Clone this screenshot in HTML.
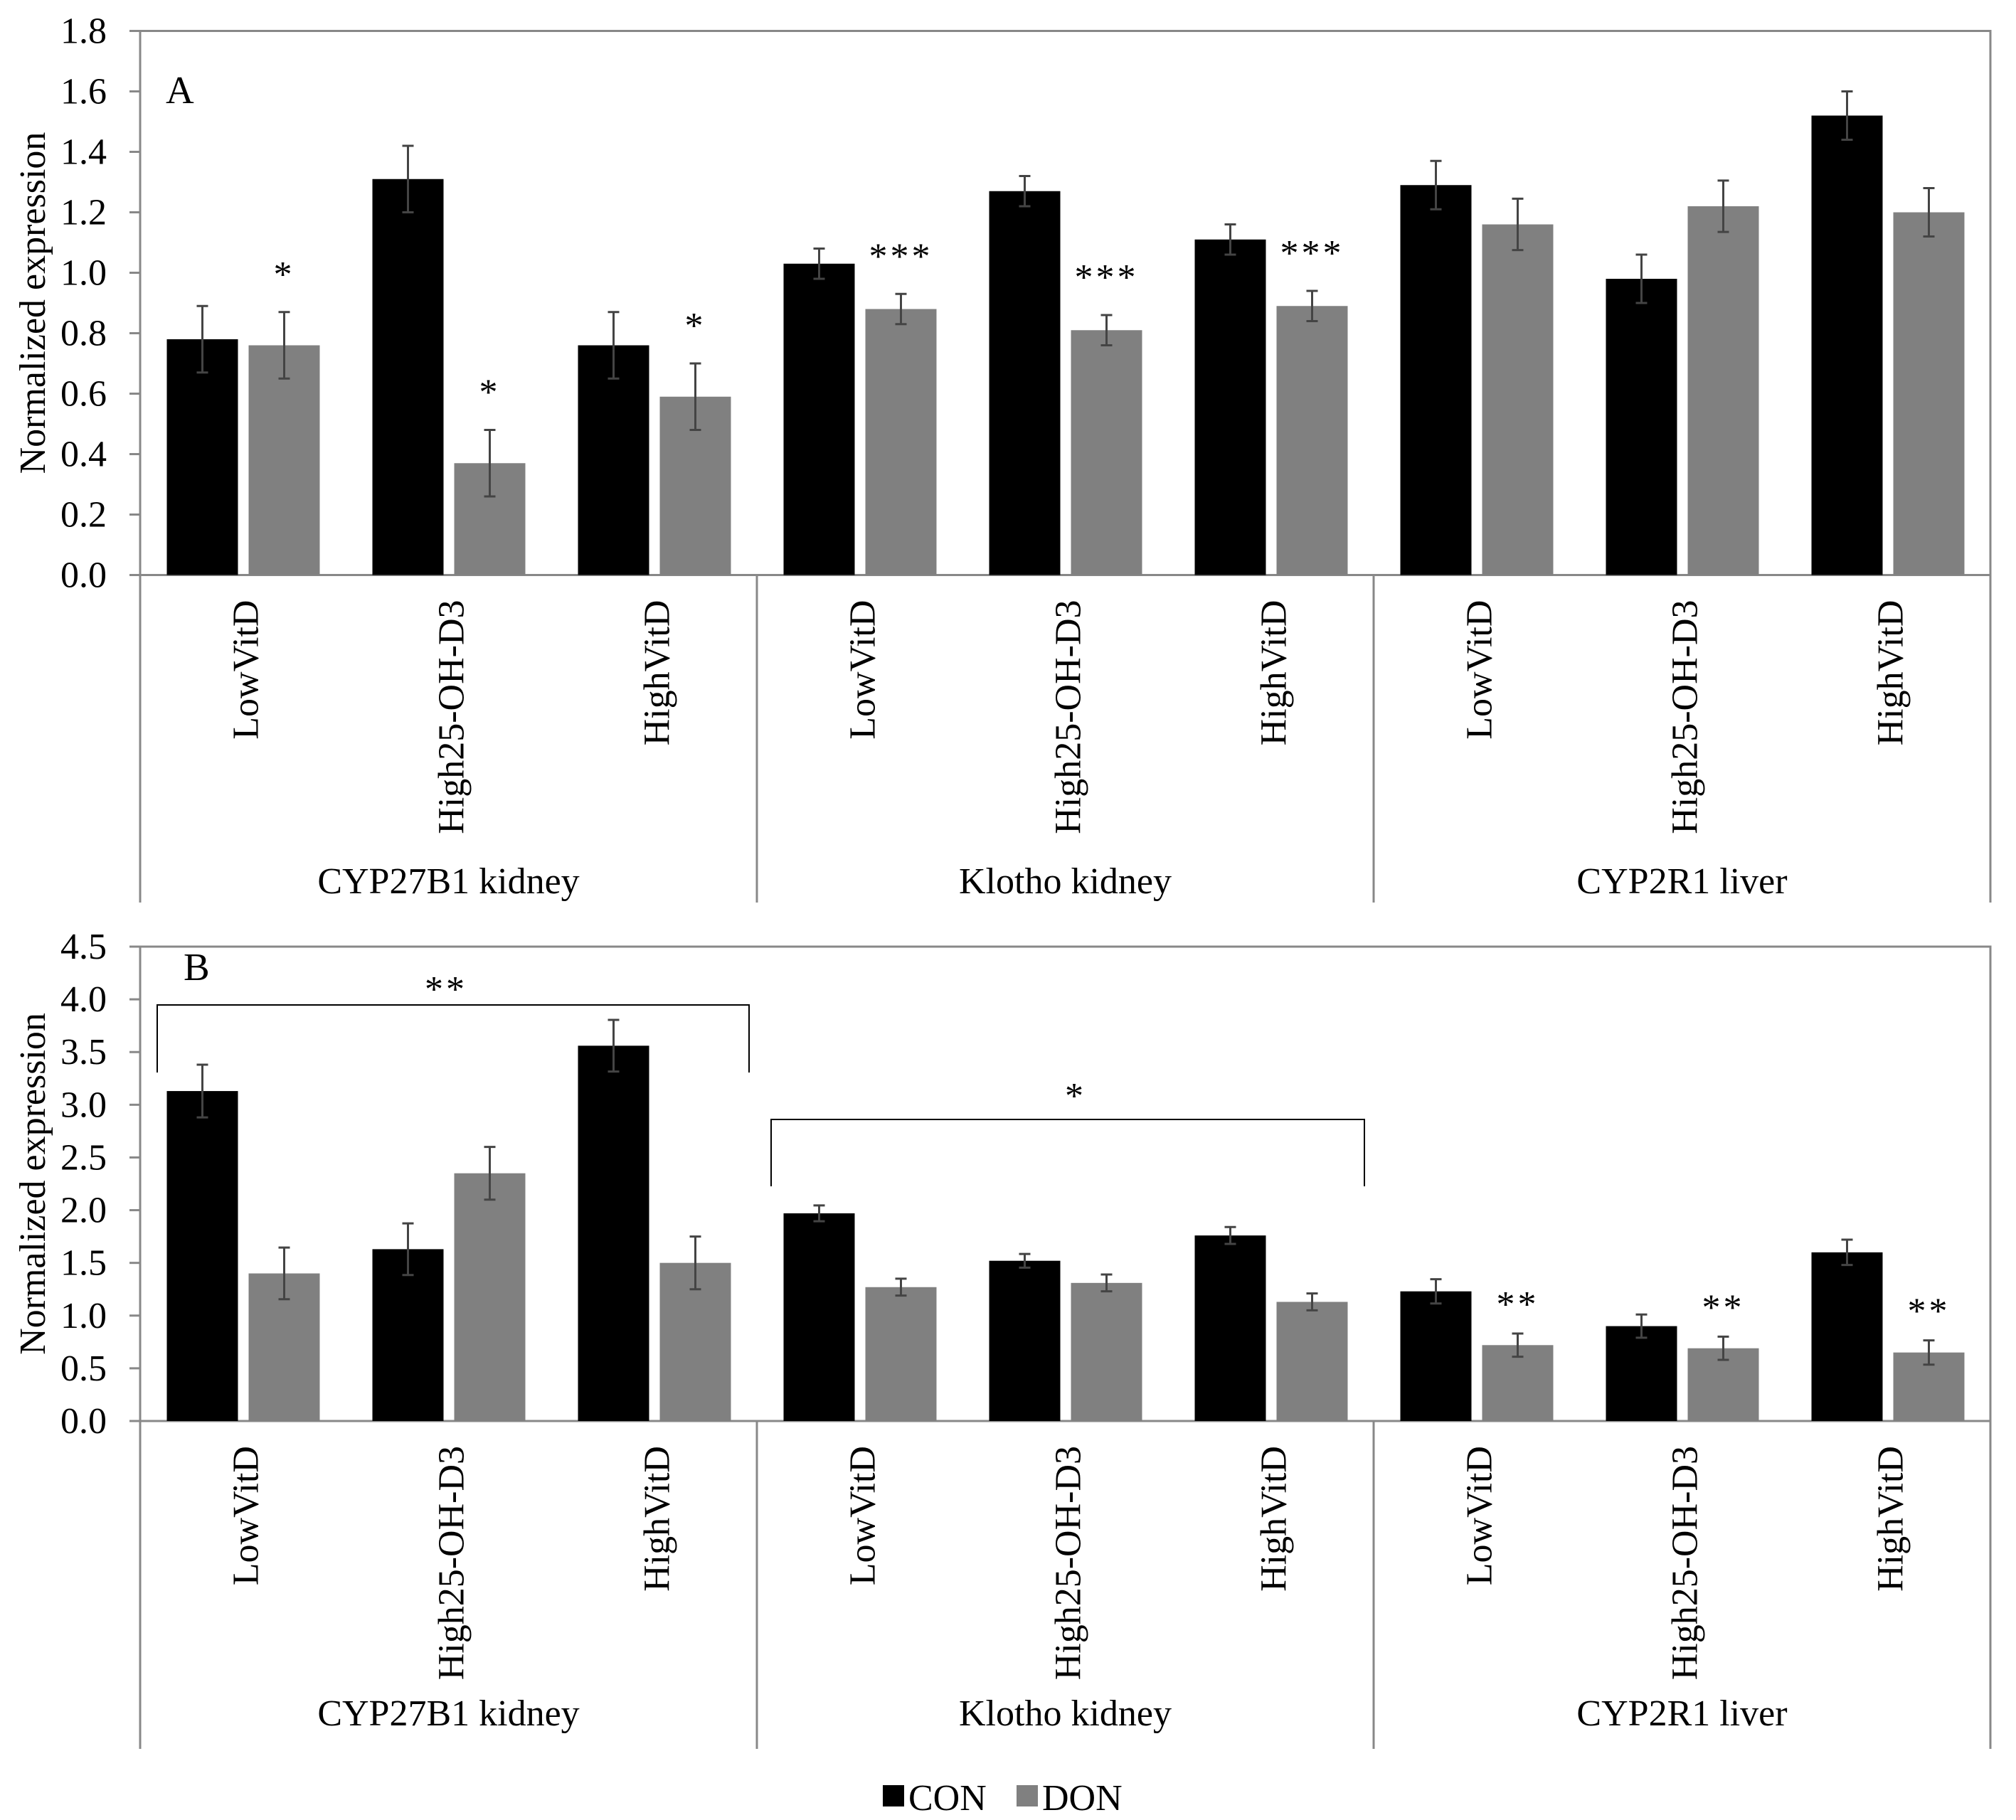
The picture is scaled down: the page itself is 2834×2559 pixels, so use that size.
<!DOCTYPE html>
<html><head><meta charset="utf-8"><style>
html,body{margin:0;padding:0;background:#fff;}
svg{display:block;font-family:"Liberation Serif","Times New Roman",serif;}
</style></head><body>
<svg id="chart" width="2834" height="2559" viewBox="0 0 2834 2559" xmlns="http://www.w3.org/2000/svg"></svg>
<script>
const groups = ["CYP27B1 kidney","Klotho kidney","CYP2R1 liver"];
const categories = ["LowVitD","High25-OH-D3","HighVitD"];
const seriesNames = ["CON","DON"];
// Panel A values (per group, per category)
const aCon = [0.78,1.31,0.76, 1.03,1.27,1.11, 1.29,0.98,1.52];
const aConErr = [0.11,0.11,0.11, 0.05,0.05,0.05, 0.08,0.08,0.08];
const aDon = [0.76,0.37,0.59, 0.88,0.81,0.89, 1.16,1.22,1.20];
const aDonErr = [0.11,0.11,0.11, 0.05,0.05,0.05, 0.085,0.085,0.08];
const aStars = ["*","*","*","***","***","***","","",""];
const aTicks = ["0.0","0.2","0.4","0.6","0.8","1.0","1.2","1.4","1.6","1.8"];
// Panel B values
const bCon = [3.13,1.63,3.56, 1.97,1.52,1.76, 1.23,0.90,1.60];
const bConErr = [0.25,0.245,0.245, 0.075,0.065,0.08, 0.115,0.11,0.12];
const bDon = [1.40,2.35,1.50, 1.27,1.31,1.13, 0.72,0.69,0.65];
const bDonErr = [0.245,0.25,0.25, 0.08,0.08,0.08, 0.11,0.11,0.115];
const bStars = ["","","","","","","**","**","**"];
const bTicks = ["0.0","0.5","1.0","1.5","2.0","2.5","3.0","3.5","4.0","4.5"];

const NS="http://www.w3.org/2000/svg";
const svg=document.getElementById('chart');
function mk(tag,attrs,parent,txt){const e=document.createElementNS(NS,tag);for(const k in attrs)e.setAttribute(k,attrs[k]);if(txt!==undefined)e.textContent=txt;(parent||svg).appendChild(e);return e;}

const X0=197, X1=2798, FS=52;
const catW=(X1-X0)/9;
function xCat(i){return X0+catW*(i+0.5);}

function drawPanel(p){
  const g=mk('g',{});
  
  
  const yv=v=>p.y0-(v/p.max)*(p.y0-p.yTop);
  // frame
  const fr=mk('rect',{x:X0,y:p.yTop,width:X1-X0,height:p.y0-p.yTop,fill:'none',stroke:'#888',"stroke-width":3},g);
  
  
  // ticks
  p.ticks.forEach((t,i)=>{
    const v=parseFloat(t);const y=yv(v);
    const tk=mk('line',{x1:X0-15,x2:X0,y1:y,y2:y,stroke:'#888',"stroke-width":3},g);
    
    
    const tl=mk('text',{x:150,y:y+17,"text-anchor":"end","font-size":FS},g,t);
    
    
  });
  // axis extension and dividers
  const ax=mk('line',{x1:X0,x2:X0,y1:p.yTop,y2:p.yBot,stroke:'#888',"stroke-width":3},g);
  
  
  for(let k=1;k<=3;k++){
    const x=X0+catW*3*k;
    const d=mk('line',{x1:x,x2:x,y1:p.y0,y2:p.yBot,stroke:'#888',"stroke-width":3},g);
    
    
  }
  const yt=mk('text',{x:0,y:0,"text-anchor":"middle","font-size":FS,transform:`translate(63,${(p.yTop+p.y0)/2}) rotate(-90)`},g,'Normalized expression');
  
  
  const pl=mk('text',{x:p.lx,y:p.ly,"font-size":55},g,p.letter);
  
  
  // bars
  for(let i=0;i<9;i++){
    const cx=xCat(i);
    const bars=[[p.con[i],p.conErr[i],'#000',cx-107,'con'],[p.don[i],p.donErr[i],'#808080',cx+8,'don']];
    bars.forEach(b=>{
      const y=yv(b[0]);
      const r=mk('rect',{x:b[3],y:y,width:100,height:p.y0-y,fill:b[2]},g);
      
      
      const ex=b[3]+50, yh=yv(b[0]+b[1]), yl=yv(b[0]-b[1]);
      const e=mk('path',{d:`M${ex},${yh}V${yl}M${ex-8},${yh}H${ex+8}M${ex-8},${yl}H${ex+8}`,stroke:'#444',"stroke-width":3,fill:'none'},g);
      
      
    });
    if(p.stars[i]){
      const top=yv(p.don[i]+p.donErr[i]);
      const s=mk('text',{x:cx+58,y:top-p.starGap+24,"text-anchor":"middle","font-size":FS,"letter-spacing":"4"},g,p.stars[i]);
      
      
    }
    const cl=mk('text',{x:0,y:0,"text-anchor":"end","font-size":FS,transform:`translate(${cx+21},${p.y0+35}) rotate(-90)`},g,categories[i%3]);
    
    
  }
  groups.forEach((gn,k)=>{
    const t=mk('text',{x:X0+catW*(3*k+1.5),y:p.gy,"text-anchor":"middle","font-size":FS},g,gn);
    
    
  });
}
drawPanel({name:'panel-a',letter:'A',yTop:43.5,y0:808.5,yBot:1269,max:1.8,ticks:aTicks,con:aCon,conErr:aConErr,don:aDon,donErr:aDonErr,stars:aStars,lx:233,ly:145,gy:1256,starGap:60});
drawPanel({name:'panel-b',letter:'B',yTop:1331,y0:1998,yBot:2459,max:4.5,ticks:bTicks,con:bCon,conErr:bConErr,don:bDon,donErr:bDonErr,stars:bStars,lx:258,ly:1378,gy:2426,starGap:48});

// brackets in panel B
const br1=mk('path',{d:'M221,1508V1413H1053V1508',stroke:'#000',"stroke-width":2,fill:'none'});


const bs1=mk('text',{x:627,y:1408,"text-anchor":"middle","font-size":FS,"letter-spacing":"4"},svg,'**');


const br2=mk('path',{d:'M1084,1668V1574H1918V1668',stroke:'#000',"stroke-width":2,fill:'none'});


const bs2=mk('text',{x:1510,y:1558,"text-anchor":"middle","font-size":FS},svg,'*');



// legend
const lg=mk('g',{});


const lx=[1241,1429];
const lc=['#000','#808080'];
seriesNames.forEach((n,i)=>{
  const r=mk('rect',{x:lx[i],y:2510,width:30,height:30,fill:lc[i]},lg);
  
  
  const t=mk('text',{x:lx[i]+36,y:2545,"font-size":FS},lg,n);
  
  
});
</script>
</body></html>
